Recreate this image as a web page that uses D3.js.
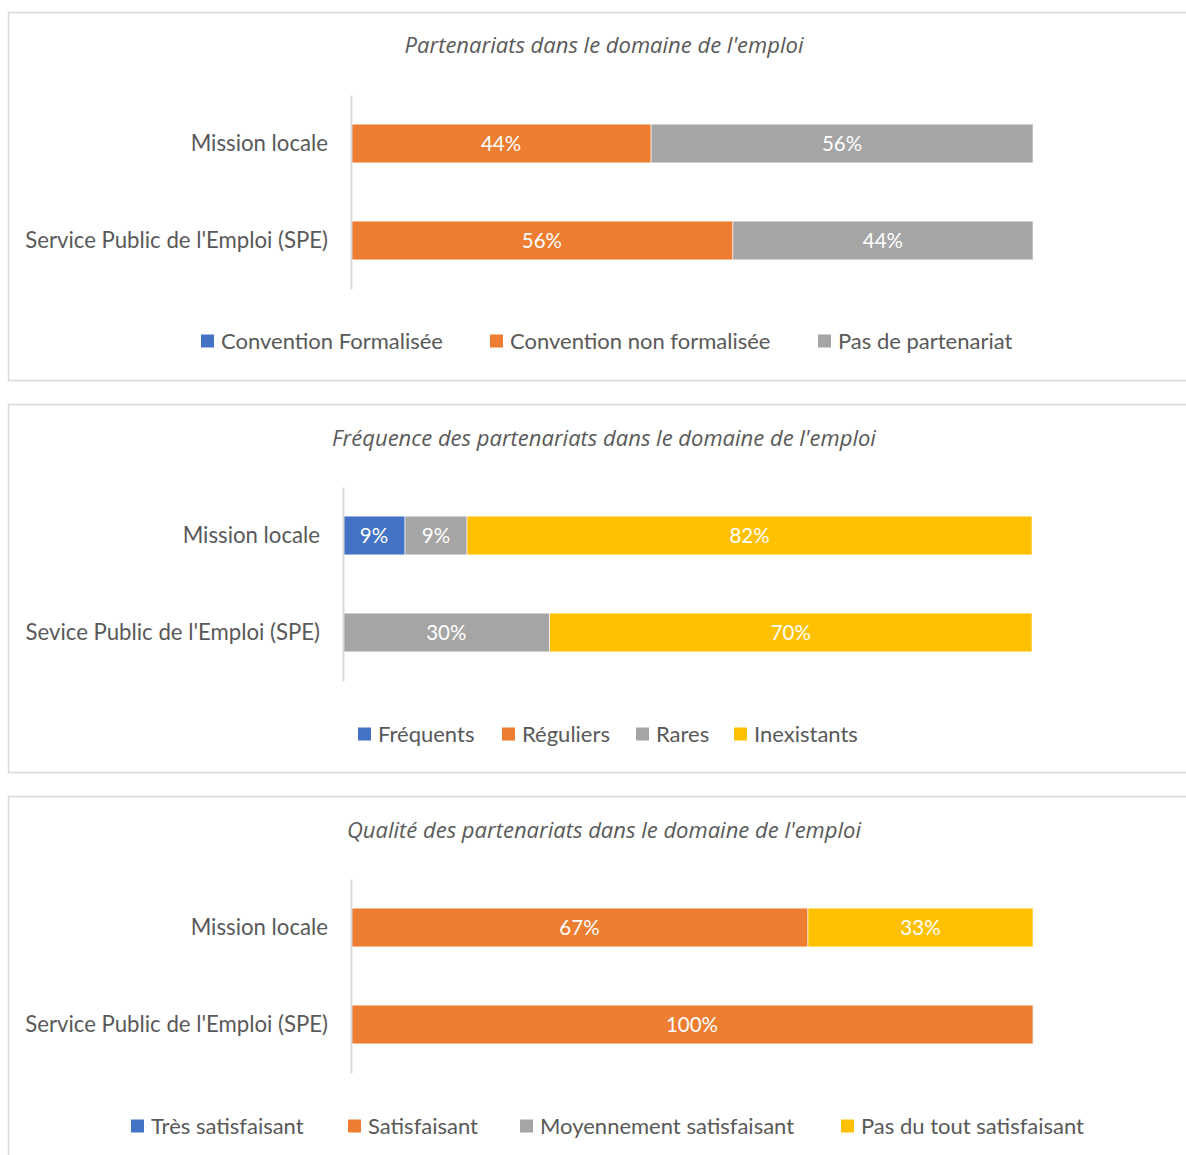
<!DOCTYPE html>
<html><head><meta charset="utf-8">
<script src="https://cdn.jsdelivr.net/npm/d3@7"></script>
<style>
html,body{margin:0;padding:0;background:#fff;}
svg{display:block;font-family:Lato,"Open Sans",sans-serif;}
</style></head>
<body>
<svg id="chart" width="1186" height="1155"></svg>
<script>
// ---- Data ----
const titles = [
  "Partenariats dans le domaine de l'emploi",
  "Fréquence des partenariats dans le domaine de l'emploi",
  "Qualité des partenariats dans le domaine de l'emploi"
];
const categories1 = ["Mission locale", "Service Public de l'Emploi (SPE)"];
const categories2 = ["Mission locale", "Sevice Public de l'Emploi (SPE)"];
const categories3 = ["Mission locale", "Service Public de l'Emploi (SPE)"];

const series1 = ["Convention Formalisée", "Convention non formalisée", "Pas de partenariat"];
const values1 = [[0, 0], [44, 56], [56, 44]];

const series2 = ["Fréquents", "Réguliers", "Rares", "Inexistants"];
const values2 = [[9, 0], [0, 0], [9, 30], [82, 70]];

const series3 = ["Très satisfaisant", "Satisfaisant", "Moyennement satisfaisant", "Pas du tout satisfaisant"];
const values3 = [[0, 0], [67, 100], [0, 0], [33, 0]];

const colors1 = ["#4472C4", "#ED7D31", "#A5A5A5"];
const colors2 = ["#4472C4", "#ED7D31", "#A5A5A5", "#FFC000"];
const colors3 = ["#4472C4", "#ED7D31", "#A5A5A5", "#FFC000"];

// ---- Layout ----
const layouts = [
  {top: 12, bottom: 380, axisX: 351, endX: 1033, plotTop: 95, plotBottom: 289, titleY: 53, legendY: 341, legendX: [201, 490, 818]},
  {top: 404, bottom: 772, axisX: 343, endX: 1032, plotTop: 487, plotBottom: 681, titleY: 446, legendY: 734, legendX: [358, 502, 636, 734]},
  {top: 796, bottom: 1170, axisX: 351, endX: 1033, plotTop: 879, plotBottom: 1073, titleY: 838, legendY: 1126, legendX: [131, 348, 520, 841]}
];

const panels = [
  {title: titles[0], cats: categories1, series: series1, values: values1, colors: colors1},
  {title: titles[1], cats: categories2, series: series2, values: values2, colors: colors2},
  {title: titles[2], cats: categories3, series: series3, values: values3, colors: colors3}
];

const svg = d3.select("#chart");
const textColor = "#595959";

panels.forEach((p, i) => {
  const L = layouts[i];
  const g = svg.append("g");
  // border
  g.append("rect").attr("x", 8.5).attr("y", L.top + 0.5)
    .attr("width", 1200).attr("height", L.bottom - L.top)
    .attr("fill", "#fff").attr("stroke", "#D9D9D9").attr("stroke-width", 1.5);

  // title
  g.append("text").attr("x", 604).attr("y", L.titleY)
    .attr("text-anchor", "middle").attr("font-style", "italic")
    .attr("font-family", "'Open Sans', Lato, sans-serif")
    .attr("font-size", 22).attr("fill", textColor).text(p.title);

  const x = d3.scaleLinear().domain([0, 100]).range([L.axisX, L.endX]);
  const y = d3.scaleBand().domain(p.cats).range([L.plotTop, L.plotBottom])
    .paddingInner(0.6).paddingOuter(0.3);

  // stack
  const rows = p.cats.map((c, ci) => {
    const o = {cat: c};
    p.series.forEach((s, si) => o[s] = p.values[si][ci]);
    return o;
  });
  const stack = d3.stack().keys(p.series)(rows);

  stack.forEach((layer, si) => {
    const lg = g.append("g");
    layer.forEach(d => {
      const v = d[1] - d[0];
      if (v <= 0) return;
      const cat = d.data.cat;
      lg.append("rect")
        .attr("x", x(d[0])).attr("y", y(cat))
        .attr("width", x(d[1]) - x(d[0])).attr("height", y.bandwidth())
        .attr("fill", p.colors[si]).attr("stroke", "#fff").attr("stroke-width", 0.6);
      lg.append("text")
        .attr("x", (x(d[0]) + x(d[1])) / 2).attr("y", y(cat) + y.bandwidth() / 2)
        .attr("dy", "0.36em").attr("text-anchor", "middle")
        .attr("font-size", 20.5).attr("fill", "#fff").text(v + "%");
    });
  });

  // axis
  const axis = d3.axisLeft(y).tickSize(0).tickPadding(23);
  const ag = g.append("g").attr("transform", `translate(${L.axisX},0)`).call(axis);
  ag.select(".domain").attr("stroke", "#D9D9D9").attr("stroke-width", 2);
  ag.selectAll("text").attr("font-size", 22.2).attr("fill", textColor)
    .attr("font-family", "Lato, 'Open Sans', sans-serif");

  // legend
  p.series.forEach((s, si) => {
    const lx = L.legendX[si];
    g.append("rect").attr("x", lx).attr("y", L.legendY - 6.5)
      .attr("width", 13).attr("height", 13).attr("fill", p.colors[si]);
    g.append("text").attr("x", lx + 20).attr("y", L.legendY)
      .attr("dy", "0.36em").attr("font-size", 22).attr("fill", textColor).text(s);
  });
});
</script>
</body></html>
